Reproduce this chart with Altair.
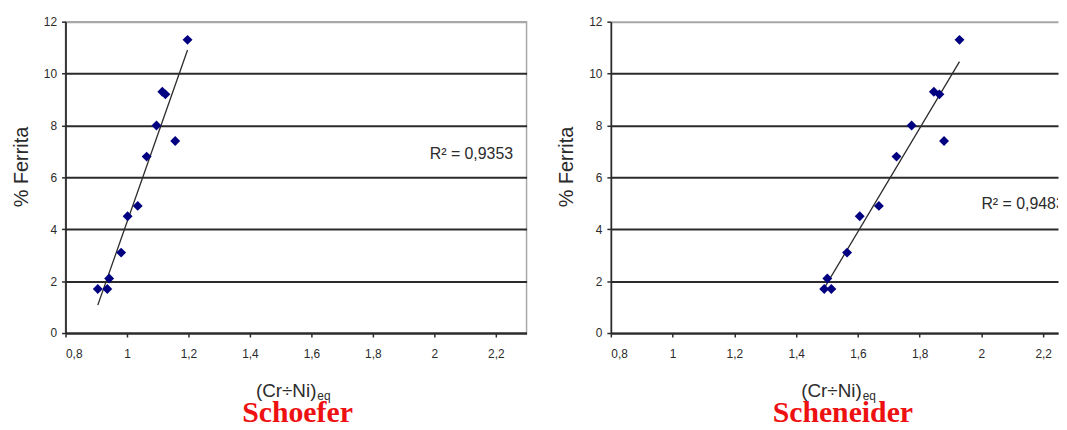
import altair as alt
import pandas as pd

# ---- data ----
ferrita = [1.7, 1.7, 2.1, 3.1, 4.5, 4.9, 6.8, 8.0, 9.3, 9.2, 7.4, 11.3]
schoefer_cr_ni = [0.905, 0.936, 0.942, 0.981, 1.002, 1.035, 1.064, 1.096, 1.115, 1.125, 1.157, 1.197]
scheneider_cr_ni = [1.491, 1.514, 1.501, 1.565, 1.606, 1.668, 1.725, 1.774, 1.846, 1.864, 1.879, 1.929]

x_ticks = [0.8, 1.0, 1.2, 1.4, 1.6, 1.8, 2.0, 2.2]
y_ticks = [0, 2, 4, 6, 8, 10, 12]

panel_names = ["Schoefer", "Scheneider"]
r2_labels = ["R\u00b2 = 0,9353", "R\u00b2 = 0,9483"]
r2_x = [1.985, 2.0]
r2_y = [6.69, 4.78]
x_max = [2.3, 2.248]
panel_widths = [465, 451]

x_title_main = "(Cr\u00f7Ni)"
x_title_sub = "eq"
y_title = "% Ferrita"

PLOT_H = 314
DARK = "#2b2b2b"


def panel(i, xs):
    df = pd.DataFrame({"x": xs, "y": ferrita})
    xscale = alt.Scale(domain=[0.8, x_max[i]], nice=False, zero=False)
    yscale = alt.Scale(domain=[0, 12], nice=False, zero=True)
    xaxis = alt.Axis(
        values=x_ticks,
        labelExpr="replace(toString(datum.value), '.', ',')",
        title=None,
        grid=False,
        labelPadding=12,
    )
    yaxis = alt.Axis(
        values=y_ticks,
        title=y_title,
        grid=True,
        gridColor={"condition": {"test": "datum.value == 12", "value": "#a8a8a8"},
                   "value": DARK},
        gridWidth=2,
        labelPadding=5,
        titlePadding=12,
        titleY=146,
    )
    enc_x = alt.X("x:Q", scale=xscale, axis=xaxis)
    enc_y = alt.Y("y:Q", scale=yscale, axis=yaxis)
    base = alt.Chart(df)

    line = base.transform_regression("x", "y").mark_line(
        color=DARK, strokeWidth=1.3
    ).encode(x=enc_x, y=enc_y)

    pts = base.mark_point(
        shape="diamond", filled=True, size=100, color="#000080", opacity=1
    ).encode(x=enc_x, y=enc_y)

    r2 = alt.Chart(pd.DataFrame({"x": [r2_x[i]], "y": [r2_y[i]], "t": [r2_labels[i]]})).mark_text(
        align="left", baseline="alphabetic", fontSize=16, font="Liberation Sans",
        color=DARK, clip=True
    ).encode(x=enc_x, y=enc_y, text="t:N")

    title_df = pd.DataFrame({"main": [x_title_main], "sub": [x_title_sub], "name": [panel_names[i]]})
    tb = alt.Chart(title_df)
    t_main = tb.mark_text(
        align="left", baseline="alphabetic", fontSize=19, font="Liberation Sans", color=DARK
    ).encode(x=alt.value(192), y=alt.value(379), text="main:N")
    t_sub = tb.mark_text(
        align="left", baseline="alphabetic", fontSize=12, font="Liberation Sans", color=DARK
    ).encode(x=alt.value(254), y=alt.value(382), text="sub:N")
    t_name = tb.mark_text(
        align="center", baseline="alphabetic", fontSize=30, font="Liberation Serif",
        fontWeight="bold", color="#ee1111"
    ).encode(x=alt.value(234), y=alt.value(404), text="name:N")

    stroke = "#a8a8a8" if i == 0 else "transparent"
    return alt.layer(line, pts, r2, t_main, t_sub, t_name).properties(
        width=panel_widths[i], height=PLOT_H,
        view=alt.ViewBackground(stroke=stroke, strokeWidth=1.5, fill="white"),
    )


left = panel(0, schoefer_cr_ni)
right = panel(1, scheneider_cr_ni)

chart = alt.hconcat(left, right, spacing=85, bounds="flush").properties(
    padding={"left": 2, "top": 5, "right": 0, "bottom": 0},
    background="white",
).configure_axis(
    domainColor=DARK,
    domainWidth=1.8,
    tickColor=DARK,
    tickWidth=1.5,
    tickSize=4,
    labelFont="Liberation Sans",
    labelFontSize=12,
    labelColor=DARK,
    titleFont="Liberation Sans",
    titleFontSize=20,
    titleFontWeight="normal",
    titleColor=DARK,
)

chart.save("out.html", embed_options={"renderer": "svg", "actions": False})
